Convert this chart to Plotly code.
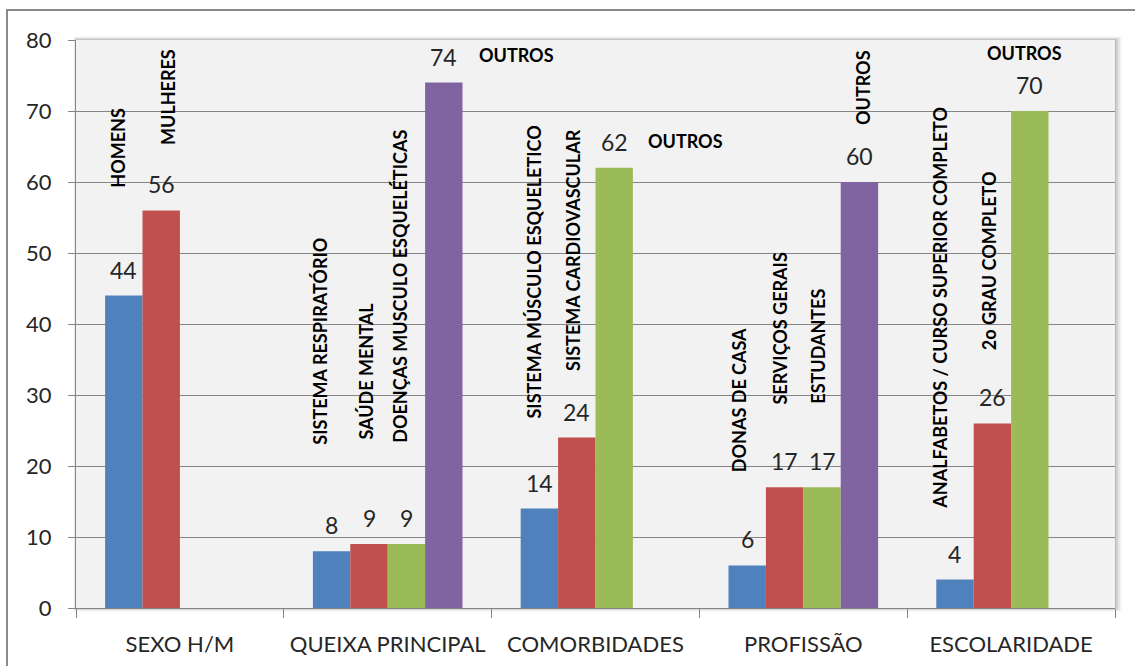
import plotly.graph_objects as go

# ---------------- data ----------------
categories = ["SEXO H/M", "QUEIXA PRINCIPAL", "COMORBIDADES", "PROFISSÃO", "ESCOLARIDADE"]
serie1 = [44, 8, 14, 6, 4]          # blue
serie2 = [56, 9, 24, 17, 26]        # red
serie3 = [None, 9, 62, 17, 70]      # green
serie4 = [None, 74, None, 60, None] # purple
series = [serie1, serie2, serie3, serie4]
colors = ["#4F81BD", "#C0504D", "#9BBB59", "#8064A2"]

y_ticks = [0, 10, 20, 30, 40, 50, 60, 70, 80]

# custom label texts: (category index, series index, text)
label_texts = [
    (0, 0, "HOMENS"), (0, 1, "MULHERES"),
    (1, 0, "SISTEMA RESPIRATÓRIO"), (1, 1, "SAÚDE MENTAL"),
    (1, 2, "DOENÇAS MUSCULO ESQUELÉTICAS"), (1, 3, "OUTROS"),
    (2, 0, "SISTEMA MÚSCULO ESQUELETICO"), (2, 1, "SISTEMA CARDIOVASCULAR"), (2, 2, "OUTROS"),
    (3, 0, "DONAS DE CASA"), (3, 1, "SERVIÇOS GERAIS"), (3, 2, "ESTUDANTES"), (3, 3, "OUTROS"),
    (4, 0, "ANALFABETOS / CURSO SUPERIOR COMPLETO"), (4, 1, "2o GRAU COMPLETO"), (4, 2, "OUTROS"),
]
# layout of those labels: (y centre in axis units, x shift px, angle)
label_layout = [
    (64.8, -6, -90), (72.0, 7, -90),
    (37.6, -12, -90), (33.3, -3, -90), (45.3, -6, -90), (77.9, 73, 0),
    (47.3, -5, -90), (50.4, -4, -90), (65.8, 71, 0),
    (29.3, -8, -90), (39.3, -5, -90), (36.8, -4, -90), (73.3, 3, -90),
    (42.3, -15, -90), (48.9, -4, -90), (78.2, -5, 0),
]

# ---------------- layout geometry ----------------
W, H = 1135, 666
L, R, T, B = 76, 20, 40, 58
PW, PH = W - L - R, H - T - B
BARGAP = 0.28
NS = len(series)
BW = (1 - BARGAP) / NS

def px_x(p):
    return (p - L) / PW

def px_y(p):
    return (H - B - p) / PH

fig = go.Figure()
for s, vals in enumerate(series):
    fig.add_trace(go.Bar(
        x=categories, y=vals, marker=dict(color=colors[s], line=dict(width=0)),
        showlegend=False, hoverinfo="skip"))

annotations = []
# value labels
for s, vals in enumerate(series):
    for c, v in enumerate(vals):
        if v is None:
            continue
        annotations.append(dict(
            x=c + (s - (NS - 1) / 2) * BW, y=v, xref="x", yref="y",
            text=str(v), showarrow=False, yshift=26,
            xanchor="center", yanchor="middle",
            font=dict(family="Lato", size=23, color="#262626")))

# category text labels
for (c, s, txt), (yc, dx, ang) in zip(label_texts, label_layout):
    annotations.append(dict(
        x=c + (s - (NS - 1) / 2) * BW, y=yc, xref="x", yref="y",
        text=txt, showarrow=False, xshift=dx, textangle=ang,
        xanchor="center", yanchor="middle",
        font=dict(family="Lato", size=18, color="#000000", weight="bold")))

shapes = []
# outer chart border
shapes.append(dict(type="rect", xref="paper", yref="paper",
                   x0=px_x(7), x1=px_x(1160), y0=px_y(700), y1=px_y(10),
                   line=dict(color="#8A8A8A", width=2), fillcolor="rgba(0,0,0,0)", layer="below"))
# plot-area shadow
for (ext, a) in [(7, 0.04), (5, 0.06), (3, 0.09), (1, 0.12)]:
    shapes.append(dict(type="rect", xref="paper", yref="paper",
                       x0=px_x(L - ext / 3), x1=px_x(L + PW + ext),
                       y0=px_y(T + PH + ext / 2), y1=px_y(T - ext / 2),
                       line=dict(width=0), fillcolor=f"rgba(0,0,0,{a})", layer="below"))
# plot-area background
shapes.append(dict(type="rect", xref="paper", yref="paper", x0=0, x1=1, y0=0, y1=1,
                   line=dict(width=0), fillcolor="#F2F2F2", layer="below"))

fig.update_layout(
    width=W, height=H,
    margin=dict(l=L, r=R, t=T, b=B),
    paper_bgcolor="white", plot_bgcolor="rgba(0,0,0,0)",
    barmode="group", bargap=BARGAP, bargroupgap=0,
    annotations=annotations, shapes=shapes,
    xaxis=dict(type="category", range=[-0.5, len(categories) - 0.5], automargin=False,
               showgrid=False, showline=True, linecolor="#858585", linewidth=1,
               ticks="outside", tickson="boundaries", ticklen=9, tickcolor="#858585",
               ticklabelstandoff=17,
               tickfont=dict(family="Lato", size=22, color="#262626")),
    yaxis=dict(range=[0, 80], tickvals=y_ticks, showgrid=True, gridcolor="#858585", gridwidth=1,
               zeroline=False, showline=True, linecolor="#858585", linewidth=1, automargin=False,
               ticks="outside", ticklen=7, tickcolor="#858585",
               ticklabelstandoff=12,
               tickfont=dict(family="Lato", size=22, color="#262626")),
)

fig.write_html("out.html")
